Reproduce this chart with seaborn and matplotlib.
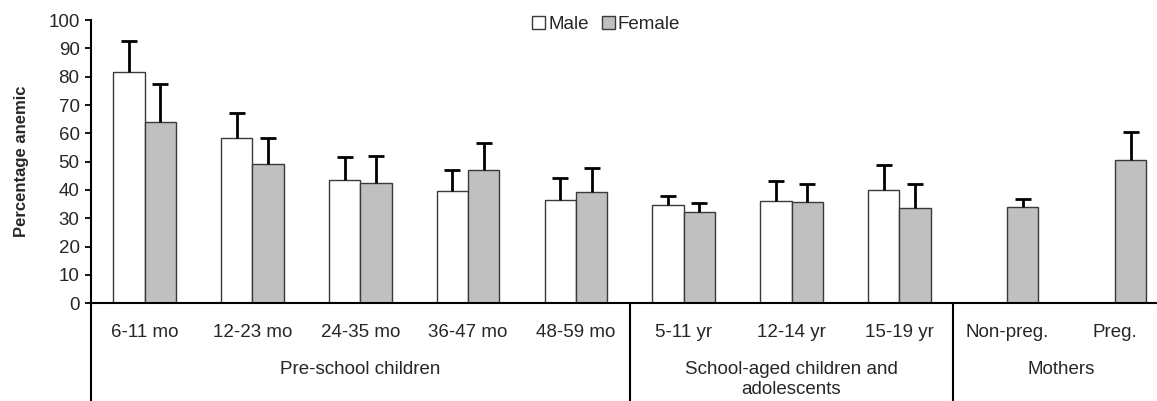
import pandas as pd
import seaborn as sns
import matplotlib.pyplot as plt

# categories and groups
categories = ["6-11 mo", "12-23 mo", "24-35 mo", "36-47 mo", "48-59 mo",
              "5-11 yr", "12-14 yr", "15-19 yr", "Non-preg.", "Preg."]
groups = ["Pre-school children", "School-aged children and\nadolescents", "Mothers"]
group_centers = [2, 6, 8.5]
group_breaks = [4.5, 7.5]

# percentage anemic (None = no bar) and upper error
male = [81.7, 58.3, 43.6, 39.6, 36.5, 34.6, 36.0, 40.0, None, None]
male_err = [10.9, 8.8, 8.2, 7.5, 7.6, 3.4, 7.1, 8.8, None, None]
female = [64.0, 49.1, 42.4, 47.2, 39.2, 32.3, 35.8, 33.7, 33.9, 50.7]
female_err = [13.3, 9.4, 9.6, 9.4, 8.4, 3.2, 6.2, 8.4, 2.9, 9.7]

rows = []
for i, c in enumerate(categories):
    if male[i] is not None:
        rows.append({"cat": c, "sex": "Male", "pct": male[i], "err": male_err[i]})
    rows.append({"cat": c, "sex": "Female", "pct": female[i], "err": female_err[i]})
df = pd.DataFrame(rows)

sns.set_style("ticks")
plt.rcParams["font.family"] = ["Liberation Sans", "DejaVu Sans"]

fig = plt.figure(figsize=(11.57, 4.01), dpi=100)
ax = fig.add_axes([0.0784, 0.2436, 0.9216, 0.7065])

sns.barplot(data=df, x="cat", y="pct", hue="sex", order=categories,
            hue_order=["Male", "Female"], palette={"Male": "white", "Female": "#c0c0c0"},
            width=0.58, errorbar=None, edgecolor="#3a3a3a", linewidth=1.0, ax=ax)

# one-sided error bars (upper cap only)
for cont, sex in zip(ax.containers, ["Male", "Female"]):
    sub = df[df["sex"] == sex]
    for bar, (_, r) in zip(cont, sub.iterrows()):
        xc = bar.get_x() + bar.get_width() / 2
        eb = ax.errorbar(xc, bar.get_height(), yerr=[[0], [r["err"]]], fmt="none",
                         ecolor="black", elinewidth=2, capsize=5.5, capthick=2)
        eb[1][0].set_visible(False)

ax.set_ylim(0, 100)
ax.set_xlim(-0.5, 9.39)
ax.set_yticks(range(0, 101, 10))
ax.tick_params(axis="y", labelsize=13.5, length=4, width=1.3, pad=4, color="black")
ax.tick_params(axis="x", labelsize=13.5, length=0, pad=15)
ax.set_xlabel("")
ax.set_ylabel("Percentage anemic", fontsize=12, fontweight="bold")
ax.yaxis.set_label_coords(-0.058, 0.5)

for s in ["top", "right"]:
    ax.spines[s].set_visible(False)
for s in ["left", "bottom"]:
    ax.spines[s].set_color("black")
    ax.spines[s].set_linewidth(1.5)

# y axis and group separators run down past the category labels
for xv in [-0.5] + group_breaks:
    ax.plot([xv, xv], [0, -36], color="black", lw=1.5, clip_on=False)

for g, xc in zip(groups, group_centers):
    ax.text(xc, -20.3, g, ha="center", va="top", fontsize=13.5, linespacing=1.25)

handles, labels = ax.get_legend_handles_labels()
ax.legend(handles, labels, loc="center", bbox_to_anchor=(0.524, 0.938),
          bbox_transform=fig.transFigure, ncol=2, frameon=False, fontsize=13.5,
          handlelength=0.7, handleheight=0.7, handletextpad=0.15, columnspacing=0.7)

fig.savefig("out.png", dpi=100)
